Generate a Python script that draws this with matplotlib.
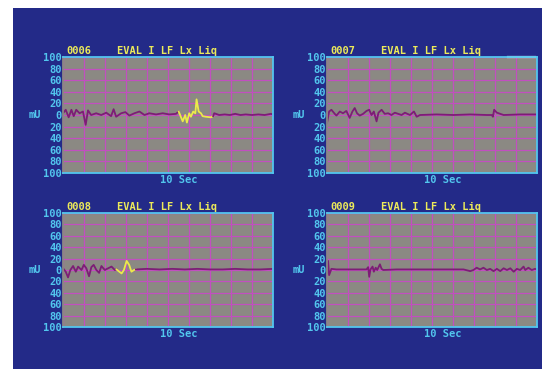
import matplotlib.pyplot as plt
from matplotlib.patches import Rectangle

# colours taken from the screen photo
BG = "#232a88"
PANEL = "#8b8983"
GRID = "#c24fc0"
TRACE = "#7d1d76"
MARK = "#ecea4a"
CYAN = "#52c6ee"
TITLE = "#ecea5a"

# y tick values / labels (screen shows no sign)
tick_vals = [100, 80, 60, 40, 20, 0, -20, -40, -60, -80, -100]
tick_text = ["100", "80", "60", "40", "20", "0", "20", "40", "60", "80", "100"]

ids = ["0006", "0007", "0008", "0009"]
lead = "EVAL I LF Lx Liq"

# --- 0006 ---
t6 = [0.0, 0.13, 0.27, 0.40, 0.51, 0.63, 0.79, 0.95, 1.08, 1.19, 1.34, 1.58, 1.82,
      2.06, 2.29, 2.41, 2.53, 2.77, 2.97, 3.16, 3.40, 3.64, 3.88, 4.11, 4.43, 4.75,
      5.06, 5.38, 5.51]
v6 = [3, 9, -4, 9, -2, 9, 3, 6, -17, 8, 0, 3, 0,
      4, -2, 10, -3, 3, 5, -1, 3, 6, 0, 3, 1, 3,
      1, 2, 6]
t6y = [5.51, 5.70, 5.82, 5.90, 6.01, 6.09, 6.20, 6.30, 6.36, 6.46, 6.57, 6.65,
       6.80, 7.04, 7.15]
v6y = [6, -11, 0, -13, 3, -3, 6, 3, 27, 6, 3, -2, -3, -4, -2]
t6b = [7.15, 7.20, 7.44, 7.70, 7.95, 8.20, 8.45, 8.70, 9.00, 9.30, 9.60, 9.90, 10.0]
v6b = [-2, 3, 0, 1, 0, 2, 0, 1, 0, 1, 0, 2, 1]

# --- 0007 ---
t7 = [0.0, 0.10, 0.21, 0.37, 0.45, 0.61, 0.76, 0.92, 1.08, 1.21, 1.32, 1.43, 1.56,
      1.72, 1.88, 2.01, 2.12, 2.23, 2.36, 2.45, 2.60, 2.75, 2.91, 3.07, 3.23, 3.39,
      3.55, 3.71, 3.95, 4.14, 4.27, 4.43, 5.22, 6.02, 6.82, 7.61, 7.85, 7.90, 7.96,
      8.09, 8.25, 8.41, 9.20, 10.0]
v7 = [-14, 6, 9, 2, -1, 6, 3, 7, -5, 6, 12, 3, -1,
      2, 7, 9, 0, 6, -11, 4, 9, 2, 3, 0, 4, 2,
      0, 4, 0, 6, -3, 0, 1, 0, 1, 0, 0, -3, 9,
      4, 2, 0, 1, 1]

# --- 0008 ---
t8 = [0.0, 0.13, 0.24, 0.35, 0.48, 0.61, 0.72, 0.88, 0.99, 1.11, 1.24, 1.35, 1.46,
      1.59, 1.72, 1.83, 1.99, 2.15, 2.31, 2.47, 2.55]
v8 = [3, -3, -13, 0, 7, -3, 6, 0, 9, 3, -11, 5, 9,
      0, -5, 7, 0, 3, 6, 0, 1]
t8y = [2.55, 2.68, 2.79, 2.90, 3.03, 3.15, 3.26, 3.38, 3.47]
v8y = [1, -3, -6, 0, 16, 9, -3, 0, 1]
t8b = [3.47, 4.0, 4.6, 5.2, 5.8, 6.4, 7.0, 7.6, 8.2, 8.8, 9.4, 10.0]
v8b = [1, 2, 1, 2, 1, 2, 1, 1, 2, 1, 1, 2]

# --- 0009 ---
t9 = [0.0, 0.05, 0.10, 0.21, 0.45, 1.24, 1.88, 1.96, 2.01, 2.07, 2.17, 2.23, 2.32,
      2.39, 2.52, 2.60, 2.68, 3.31, 4.43, 5.22, 6.02, 6.50, 6.82, 6.97, 7.13, 7.29,
      7.45, 7.61, 7.77, 7.93, 8.09, 8.25, 8.41, 8.57, 8.73, 8.89, 9.04, 9.20, 9.36,
      9.44, 9.59, 9.75, 9.90, 10.0]
v9 = [-6, 16, -9, 2, 1, 1, 1, 5, -12, 1, 6, -3, 4,
      0, 10, 2, 0, 1, 1, 1, 1, 1, -2, 0, 4, 1,
      4, 0, 2, -2, 2, -2, 3, 0, 3, -3, 2, 0, 6,
      0, 4, 0, 2, 1]

series = [
    [(t6, v6, TRACE), (t6y, v6y, MARK), (t6b, v6b, TRACE)],
    [(t7, v7, TRACE)],
    [(t8, v8, TRACE), (t8y, v8y, MARK), (t8b, v8b, TRACE)],
    [(t9, v9, TRACE)],
]

# panel boxes in pixels: left, top, right, bottom
boxes = [(63, 57, 273, 173), (327, 57, 537, 173),
         (63, 213, 273, 327), (327, 213, 537, 327)]

W, H = 542, 369
fig = plt.figure(figsize=(W / 100, H / 100), dpi=100)
fig.patch.set_facecolor("white")
fig.patches.append(Rectangle((13 / W, 0), 1 - 13 / W, 1 - 8 / H,
                             transform=fig.transFigure, facecolor=BG,
                             edgecolor="none", zorder=-10))

mono = dict(family="DejaVu Sans Mono", weight="bold")

for k in range(4):
    l, t, r, b = boxes[k]
    ax = fig.add_axes([l / W, (H - b) / H, (r - l) / W, (b - t) / H])
    ax.set_facecolor(PANEL)
    ax.set_xlim(0, 10)
    ax.set_ylim(-100, 100)
    ax.set_xticks(range(0, 11))
    ax.set_xticklabels([])
    ax.set_yticks(tick_vals)
    ax.set_yticklabels(tick_text, color=CYAN, fontsize=7.5, **mono)
    ax.tick_params(length=0, pad=1)
    ax.grid(True, color=GRID, lw=0.9)
    ax.set_axisbelow(True)
    for s in ax.spines.values():
        s.set_color(CYAN)
        s.set_linewidth(1.3)
    ax.spines["left"].set_color(PANEL)

    for tt, vv, c in series[k]:
        ax.plot(tt, vv, color=c, lw=1.3, solid_joinstyle="round")

    ax.text(0.015, 1.01, ids[k], transform=ax.transAxes, color=TITLE,
            fontsize=7.5, va="bottom", ha="left", **mono)
    ax.text(0.257, 1.01, lead, transform=ax.transAxes, color=TITLE,
            fontsize=7.5, va="bottom", ha="left", **mono)
    ax.text(0.46, -0.015, "10 Sec", transform=ax.transAxes, color=CYAN,
            fontsize=7.5, va="top", ha="left", **mono)
    ax.text(-0.165, 0.5, "mU", transform=ax.transAxes, color=CYAN,
            fontsize=7.5, va="center", ha="left", **mono)

    if k == 1:
        ax.plot([0.86, 0.99], [1, 1], transform=ax.transAxes, color="white",
                lw=1.6, clip_on=False)

fig.savefig("out.png", dpi=100, facecolor=fig.get_facecolor())
